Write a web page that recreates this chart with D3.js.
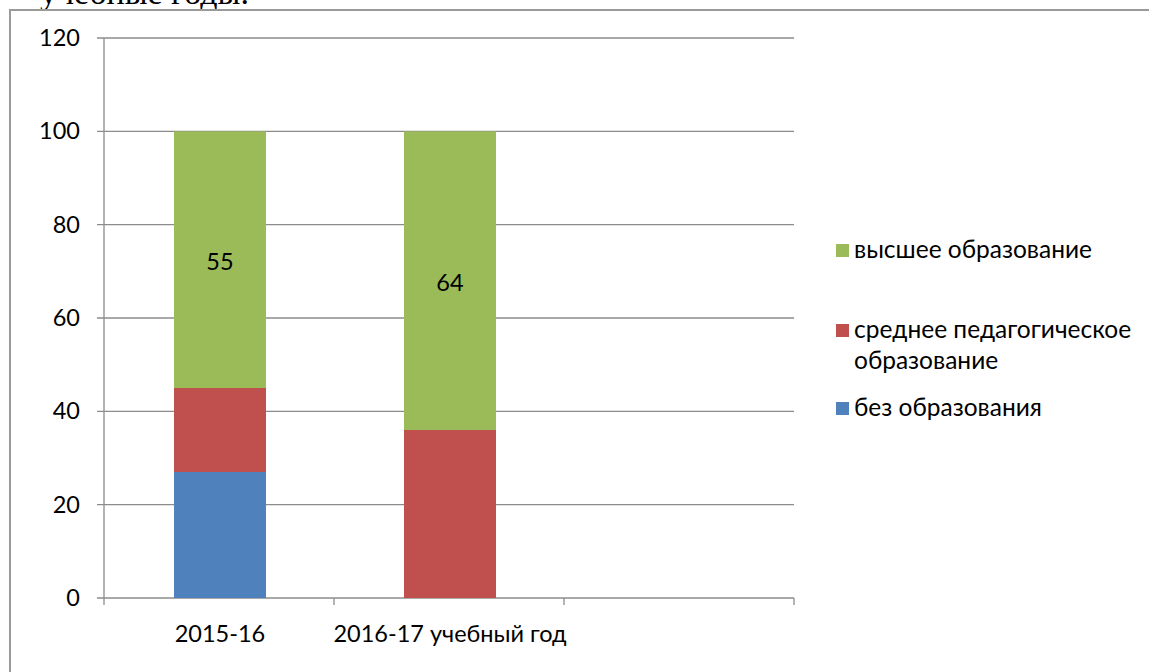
<!DOCTYPE html>
<html lang="ru">
<head>
<meta charset="UTF-8">
<title>Образование</title>
<script src="https://d3js.org/d3.v7.min.js"></script>
<style>
  body { margin: 0; background: #fff; }
  text { font-family: Lato, "Open Sans", sans-serif; fill: #000; }
</style>
</head>
<body>
<svg width="1149" height="672"></svg>
<script>
// categories (third slot is empty in the original)
const categories = ["2015-16", "2016-17 учебный год", ""];
const seriesNames = ["без образования", "среднее педагогическое образование", "высшее образование"];
const bezObr = [27, 0, null];
const srednee = [18, 36, null];
const vysshee = [55, 64, null];
const yTicks = [0, 20, 40, 60, 80, 100, 120];
const colors = ["#4F81BD", "#C0504D", "#9BBB59"];

const rows = categories.map((c, i) => ({
  cat: c, bez: bezObr[i] || 0, sred: srednee[i] || 0, vys: vysshee[i] || 0, vysLabel: vysshee[i]
}));
const keys = ["bez", "sred", "vys"];
const stack = d3.stack().keys(keys)(rows);

const svg = d3.select("svg");
const fs = "23.5px";

// cut-off line of text from the surrounding document
svg.append("text")
  .attr("x", 40).attr("y", 4)
  .style("font-family", "'Liberation Serif', serif")
  .style("font-size", "34px")
  .text("учебные годы.");

// chart frame
svg.append("rect")
  .attr("x", 10).attr("y", 10)
  .attr("width", 1160).attr("height", 680)
  .attr("fill", "none").attr("stroke", "#9a9a9a").attr("stroke-width", 2);

const x = d3.scaleBand().domain(categories).range([104, 794]).padding(0);
const y = d3.scaleLinear().domain([0, 120]).range([598, 38]);
const barW = x.bandwidth() * 0.4;

// gridlines
svg.append("g").selectAll("line").data(yTicks).join("line")
  .attr("x1", 97).attr("x2", 794)
  .attr("y1", d => y(d)).attr("y2", d => y(d))
  .attr("stroke", "#8c8c8c").attr("stroke-width", 1.3);

// y axis
svg.append("line").attr("x1", 104).attr("x2", 104).attr("y1", y(120)).attr("y2", y(0))
  .attr("stroke", "#8c8c8c").attr("stroke-width", 1.3);
svg.append("g").selectAll("text").data(yTicks).join("text")
  .attr("x", 80).attr("y", d => y(d) + 8)
  .attr("text-anchor", "end")
  .style("font-size", fs)
  .text(d => d);

// x tick marks
const xEdges = categories.map(c => x(c)).concat([x(categories[categories.length - 1]) + x.bandwidth()]);
svg.append("g").selectAll("line").data(xEdges).join("line")
  .attr("x1", d => d).attr("x2", d => d)
  .attr("y1", y(0)).attr("y2", y(0) + 7)
  .attr("stroke", "#8c8c8c").attr("stroke-width", 1.3);

svg.append("g").selectAll("text").data(categories).join("text")
  .attr("x", d => x(d) + x.bandwidth() / 2 + 1)
  .attr("y", 642)
  .attr("text-anchor", "middle")
  .style("font-size", fs)
  .text(d => d);

// bars
svg.append("g").selectAll("g").data(stack).join("g")
  .attr("fill", (d, i) => colors[i])
  .selectAll("rect").data(d => d.filter(p => p[1] > p[0])).join("rect")
  .attr("x", d => x(d.data.cat) + (x.bandwidth() - barW) / 2 + 1)
  .attr("width", barW)
  .attr("y", d => y(d[1]))
  .attr("height", d => y(d[0]) - y(d[1]));

// data labels on the green series
const topSeg = stack[2].filter(p => p.data.vysLabel != null);
svg.append("g").selectAll("text").data(topSeg).join("text")
  .attr("x", d => x(d.data.cat) + x.bandwidth() / 2 + 1)
  .attr("y", d => y((d[0] + d[1]) / 2) + 10)
  .attr("text-anchor", "middle")
  .style("font-size", fs)
  .text(d => d.data.vysLabel);

// legend
const legend = [
  { name: ["высшее образование"], color: colors[2], y: 244 },
  { name: ["среднее педагогическое", "образование"], color: colors[1], y: 324 },
  { name: ["без образования"], color: colors[0], y: 402 }
];
const lg = svg.append("g").selectAll("g").data(legend).join("g")
  .attr("transform", d => `translate(836,${d.y})`);
lg.append("rect").attr("width", 13).attr("height", 13).attr("fill", d => d.color);
lg.append("text")
  .attr("x", 18).attr("y", 14)
  .style("font-size", "24.5px")
  .selectAll("tspan").data(d => d.name).join("tspan")
  .attr("x", 18).attr("dy", (d, i) => i ? 31 : 0)
  .text(d => d);
</script>
</body>
</html>
